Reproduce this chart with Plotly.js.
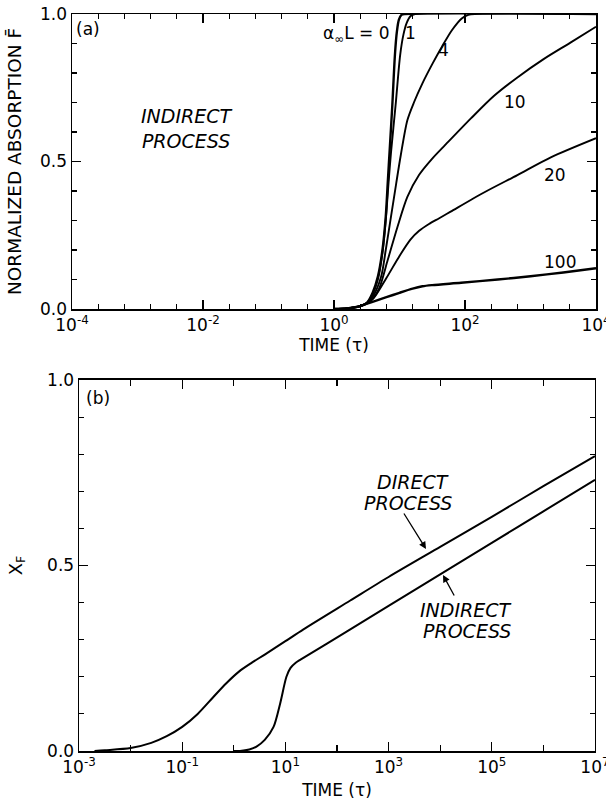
<!DOCTYPE html>
<html><head><meta charset="utf-8">
<script src="https://cdn.plot.ly/plotly-3.0.1.min.js"></script>
<style>body{margin:0;background:#fff}</style>
</head><body><div id="chart" style="width:606px;height:800px"></div>
<script>
// ---- Panel (a): normalized absorption F vs log10(time τ), one curve per α∞L ----
const logTauA0 = [0.0, 0.2, 0.4, 0.5, 0.59, 0.67, 0.74, 0.79, 0.82, 0.85, 0.89, 0.93, 0.96, 0.99, 1.03, 1.08, 4.0];
const fA0      = [0, 0.002, 0.01, 0.02, 0.055, 0.11, 0.2, 0.313, 0.426, 0.539, 0.69, 0.861, 0.94, 0.98, 0.997, 1.0, 1.0];
const logTauA1 = [0.0, 0.2, 0.4, 0.5, 0.59, 0.67, 0.74, 0.79, 0.83, 0.87, 0.94, 1.01, 1.06, 1.11, 1.17, 1.24, 4.0];
const fA1      = [0, 0.002, 0.01, 0.02, 0.05, 0.1, 0.19, 0.3, 0.42, 0.53, 0.69, 0.861, 0.93, 0.97, 0.993, 1.0, 1.0];
const logTauA4 = [0.0, 0.2, 0.4, 0.5, 0.6, 0.72, 0.79, 0.87, 0.95, 1.02, 1.12, 1.22, 1.35, 1.5, 1.65, 1.8, 1.95, 2.05, 2.15, 4.0];
const fA4      = [0, 0.002, 0.01, 0.02, 0.045, 0.11, 0.2, 0.313, 0.426, 0.522, 0.64, 0.70, 0.765, 0.83, 0.89, 0.945, 0.985, 0.997, 1.0, 1.0];
const logTauA10 = [0.0, 0.2, 0.4, 0.5, 0.6, 0.69, 0.82, 0.97, 1.12, 1.3, 1.5, 1.75, 2.09, 2.44, 2.8, 3.2, 3.61, 4.0];
const fA10      = [0, 0.002, 0.01, 0.02, 0.038, 0.07, 0.166, 0.279, 0.38, 0.455, 0.51, 0.568, 0.646, 0.722, 0.785, 0.847, 0.903, 0.957];
const logTauA20 = [0.0, 0.2, 0.4, 0.5, 0.6, 0.8, 1.0, 1.17, 1.3, 1.45, 1.6, 1.78, 2.29, 2.8, 3.31, 4.0];
const fA20      = [0, 0.002, 0.01, 0.018, 0.035, 0.105, 0.18, 0.236, 0.265, 0.288, 0.307, 0.33, 0.395, 0.454, 0.514, 0.579];
const logTauA100 = [0.0, 0.2, 0.4, 0.6, 0.8, 1.0, 1.2, 1.35, 1.5, 1.94, 2.5, 3.0, 3.5, 4.0];
const fA100      = [0, 0.002, 0.01, 0.025, 0.04, 0.055, 0.069, 0.077, 0.081, 0.089, 0.1, 0.111, 0.124, 0.138];
const curveLabelsA = ["0", "1", "4", "10", "20", "100"];

// ---- Panel (b): X_F vs log10(time τ) ----
const logTauDirect = [-2.7, -2.5, -2.0, -1.6, -1.3, -1.0, -0.7, -0.4, -0.15, 0.1, 0.35, 0.6, 1.0, 1.35, 2.25, 3, 4, 5, 6, 7];
const xfDirect     = [0, 0.002, 0.008, 0.022, 0.04, 0.065, 0.1, 0.145, 0.182, 0.214, 0.238, 0.26, 0.296, 0.328, 0.405, 0.469, 0.55, 0.631, 0.714, 0.795];
const logTauIndirect = [0.0, 0.12, 0.3, 0.44, 0.6, 0.77, 0.9, 1.02, 1.1, 1.2, 1.3, 2.25, 3, 4, 5, 6, 7];
const xfIndirect     = [0, 0, 0.004, 0.012, 0.03, 0.065, 0.129, 0.2, 0.224, 0.238, 0.247, 0.327, 0.391, 0.476, 0.561, 0.646, 0.731];

// ---- tick labels ----
const tickExpA = [-4, -2, 0, 2, 4];
const tickExpB = [-3, -1, 1, 3, 5, 7];
const yTickVals = [0, 0.5, 1];
const yTickText = ["0.0", "0.5", "1.0"];

const toTau = a => a.map(v => Math.pow(10, v));
const FONT = "DejaVu Sans, Liberation Sans, sans-serif";
const line = {color: "#000", width: 2, shape: "spline", smoothing: 0.8};

const seriesA = [[logTauA0, fA0], [logTauA1, fA1], [logTauA4, fA4], [logTauA10, fA10], [logTauA20, fA20], [logTauA100, fA100]];
const traces = seriesA.map((s, i) => ({
  x: toTau(s[0]), y: s[1], type: "scatter", mode: "lines", name: curveLabelsA[i],
  line: Object.assign({}, line, {width: (i === 0 || i === 5) ? 2.4 : 1.9}), xaxis: "x", yaxis: "y"
}));
traces.push({x: toTau(logTauDirect), y: xfDirect, type: "scatter", mode: "lines", name: "direct",
  line: line, xaxis: "x2", yaxis: "y2"});
traces.push({x: toTau(logTauIndirect), y: xfIndirect, type: "scatter", mode: "lines", name: "indirect",
  line: line, xaxis: "x2", yaxis: "y2"});

// pixel -> paper helpers (plot area 72..596 horizontally, 14..751 vertically)
const px = x => (x - 72) / 524;
const py = y => (751 - y) / 737;

const axisCommon = {
  showline: true, linecolor: "#000", linewidth: 1.5, mirror: "allticks",
  ticks: "inside", ticklen: 9, tickwidth: 1.3, tickcolor: "#000",
  showgrid: false, zeroline: false, ticklabeloverflow: "allow",
  tickfont: {size: 17, family: FONT, color: "#000"}
};
const minorY = {tickmode: "linear", tick0: 0, dtick: 0.1, ticks: "inside", ticklen: 5, tickwidth: 1.1, tickcolor: "#000", showgrid: false};

function txt(text, x, y, size, italic) {
  return {text: italic ? "<i>" + text + "</i>" : text, x: px(x), y: py(y), xref: "paper", yref: "paper",
    showarrow: false, xanchor: "center", yanchor: "middle",
    font: {size: size, family: FONT, color: "#000"}};
}
function arrow(tipX, tipY, tailX, tailY) {
  return {text: "", x: px(tipX), y: py(tipY), xref: "paper", yref: "paper", showarrow: true,
    ax: tailX - tipX, ay: tailY - tipY, arrowhead: 2, arrowsize: 1.1, arrowwidth: 1.3,
    arrowcolor: "#000", standoff: 0, startstandoff: 0};
}

const layout = {
  width: 606, height: 800, showlegend: false,
  paper_bgcolor: "#fff", plot_bgcolor: "#fff",
  margin: {l: 72, r: 10, t: 14, b: 49},
  font: {family: FONT, color: "#000"},
  xaxis: Object.assign({}, axisCommon, {
    domain: [0, 1], anchor: "y", type: "log", range: [-4, 4],
    tickmode: "array",
    tickvals: tickExpA.map(e => Math.pow(10, e)),
    ticktext: tickExpA.map(e => "10<sup>" + e + "</sup>"),
    minor: {tickmode: "linear", tick0: -4, dtick: 0.4, ticks: "inside", ticklen: 5, tickwidth: 1.1, tickcolor: "#000", showgrid: false},
    title: {text: "TIME (τ)", font: {size: 17, family: FONT}, standoff: 4}
  }),
  yaxis: Object.assign({}, axisCommon, {
    domain: [0.5997, 1], anchor: "x", range: [0, 1],
    tickmode: "array", tickvals: yTickVals, ticktext: yTickText,
    minor: minorY,
    title: {text: "NORMALIZED ABSORPTION F\u0304", font: {size: 18.5, family: FONT}, standoff: 13}
  }),
  xaxis2: Object.assign({}, axisCommon, {
    domain: [0.0134, 0.998], anchor: "y2", type: "log", range: [-3, 7],
    tickmode: "array",
    tickvals: tickExpB.map(e => Math.pow(10, e)),
    ticktext: tickExpB.map(e => "10<sup>" + e + "</sup>"),
    minor: {tickmode: "linear", tick0: -3, dtick: 1, ticks: "inside", ticklen: 6, tickwidth: 1.1, tickcolor: "#000", showgrid: false},
    title: {text: "TIME (τ)", font: {size: 17, family: FONT}, standoff: 9}
  }),
  yaxis2: Object.assign({}, axisCommon, {
    domain: [0, 0.5034], anchor: "x2", range: [0, 1],
    tickmode: "array", tickvals: yTickVals, ticktext: yTickText,
    minor: minorY,
    title: {text: "X<sub>F</sub>", font: {size: 18, family: FONT}, standoff: 20}
  }),
  annotations: [
    txt("(a)", 88, 29, 17, false),
    txt("INDIRECT<br>PROCESS", 187, 129, 19, true),
    txt("α<sub>∞</sub>L = 0", 356, 35, 17, false),
    txt("1", 410, 33, 17, false),
    txt("4", 443, 50, 17, false),
    txt("10", 515, 102, 17, false),
    txt("20", 555, 175, 17, false),
    txt("100", 560, 262, 17, false),
    txt("(b)", 98, 398, 17, false),
    txt("DIRECT", 413, 482, 19, true),
    txt("PROCESS", 408, 503, 19, true),
    txt("INDIRECT", 466, 610, 19, true),
    txt("PROCESS", 467, 631, 19, true),
    arrow(426, 549, 403, 512),
    arrow(443, 575, 455, 597)
  ]
};

Plotly.newPlot("chart", traces, layout, {staticPlot: true, displayModeBar: false});
</script>
</body></html>
